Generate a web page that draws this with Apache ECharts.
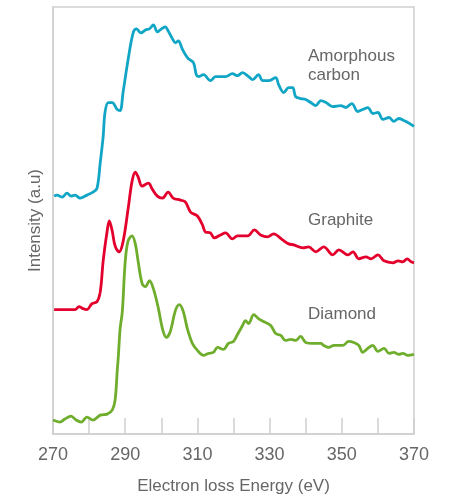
<!DOCTYPE html>
<html>
<head>
<meta charset="utf-8">
<script src="https://cdn.jsdelivr.net/npm/echarts@6/dist/echarts.min.js"></script>
<style>
  html, body { margin: 0; padding: 0; background: #fff; }
  #chart { width: 466px; height: 500px; }
</style>
</head>
<body>
<div id="chart"></div>
<script>
// EELS carbon K-edge spectra, offset vertically (arbitrary units)
const amorphousE = [270.3,271.1,272.5,273.9,275.0,276.1,277.5,279.4,281.1,282.2,283.1,283.9,284.4,285.3,286.4,287.8,288.6,289.4,290.8,292.2,293.1,294.4,295.6,296.7,297.8,298.9,299.7,301.1,301.9,303.1,303.9,304.7,305.8,306.7,307.5,308.9,309.7,310.3,311.7,313.6,315.0,316.4,317.8,319.7,321.1,322.5,324.2,325.3,326.9,328.1,329.7,331.7,332.5,333.9,335.3,336.4,337.2,338.6,340.0,341.4,342.8,344.2,345.6,347.5,349.7,351.1,352.8,354.4,355.8,357.2,358.6,360.0,361.4,363.1,364.4,365.8,367.2,368.3,370.0]
const amorphousI = [239,240,238,242,239,240,237,240,243,247,273,299,323,333,333,326,325,343,376,403,407,403,406,407,411,404,406,409,405,397,393,395,387,381,377,373,361,359,361,355,359,359,359,362,360,363,359,356,361,355,355,358,351,343,348,348,339,337,336,333,330,335,333,329,330,328,332,324,326,328,322,323,316,318,314,317,315,313,309]

const graphiteE = [270.3,276.1,277.2,278.3,279.4,280.8,282.2,283.1,283.9,285.0,285.6,286.4,287.2,288.3,289.4,290.8,291.9,292.8,293.6,294.7,296.4,297.5,298.9,300.3,301.9,303.3,305.3,306.7,308.1,310.0,311.4,312.2,313.6,314.7,316.4,317.8,319.7,321.1,323.9,325.8,327.5,329.4,331.1,333.6,335.3,336.7,339.2,340.8,342.8,345.0,347.5,349.2,351.7,353.1,354.7,356.7,358.1,360.0,361.7,364.2,365.6,366.9,368.1,369.2,370.0]
const graphiteI = [125,125,128,126,125,131,133,143,174,204,214,204,189,183,193,226,254,263,258,249,252,246,239,237,243,237,235,233,223,219,210,203,202,197,200,202,196,199,199,205,200,198,201,195,191,190,187,188,183,188,180,185,180,183,176,178,176,180,174,172,174,173,176,173,172]

const diamondE = [270.0,271.9,273.3,275.0,276.4,277.8,279.4,281.1,283.1,285.0,286.4,287.2,287.8,288.1,288.6,289.2,290.0,290.8,291.9,292.8,293.6,294.7,295.6,296.7,297.8,299.2,300.3,301.4,302.5,303.9,305.0,306.1,307.2,308.6,310.0,311.7,313.1,314.4,315.6,317.2,318.6,320.0,321.1,322.5,323.3,324.2,325.6,326.9,328.3,330.3,331.7,333.1,334.4,335.8,337.2,338.6,340.0,341.9,344.2,345.0,346.4,347.8,350.3,351.9,353.3,354.7,355.8,357.2,358.6,360.0,361.7,363.1,364.4,365.8,366.9,368.3,370.0]
const diamondI = [14,12,15,18,14,12,17,14,19,20,24,34,64,78,106,123,173,194,199,191,173,151,148,154,146,126,106,97,103,124,130,123,106,91,84,79,81,82,87,85,91,93,100,109,114,111,120,116,113,109,101,99,94,95,94,98,92,91,91,89,87,89,89,93,92,89,82,86,89,83,86,81,82,80,81,79,80]

const seriesNames = ['Amorphous carbon', 'Graphite', 'Diamond']
const seriesColors = ['#11a5c6', '#e3002c', '#6fad2c']
const xTickLabels = ['270', '290', '310', '330', '350', '370']

function pairs(xs, ys) {
    let out = []
    for (let i = 0; i < xs.length; i++) out.push([xs[i], ys[i]])
    return out
}

let myChart = echarts.init(document.getElementById('chart'))
let lineData = [pairs(amorphousE, amorphousI), pairs(graphiteE, graphiteI), pairs(diamondE, diamondI)]
let seriesData = []
for (let i = 0; i < seriesNames.length; i++) {
    seriesData.push({
        name: seriesNames[i], type: 'line', data: lineData[i],
        smooth: 0.35, showSymbol: false, silent: true,
        lineStyle: { color: seriesColors[i], width: 2.8 }
    })
}

const labelStyle = { fill: '#666', fontSize: 17, fontFamily: 'Liberation Sans', lineHeight: 19 }
let option = {
    animation: false,
    grid: {
        left: 53, right: 52, top: 7, bottom: 64,
        show: true, borderColor: '#d0d0d0', borderWidth: 1.5
    },
    xAxis: {
        type: 'value', min: 270, max: 370, interval: 10,
        name: 'Electron loss Energy (eV)', nameLocation: 'middle', nameGap: 44,
        nameTextStyle: { color: '#666', fontSize: 17, fontFamily: 'Liberation Sans' },
        axisLine: { lineStyle: { color: '#d0d0d0', width: 1.5 } },
        axisTick: { inside: true, length: 16, lineStyle: { color: '#d0d0d0', width: 1.5 } },
        splitLine: { show: false },
        axisLabel: {
            margin: 12, color: '#666', fontSize: 18, fontFamily: 'Liberation Sans',
            formatter: function (v) { return xTickLabels.indexOf(String(v)) >= 0 ? String(v) : '' }
        }
    },
    yAxis: {
        type: 'value', min: 0, max: 429,
        name: 'Intensity (a.u)', nameLocation: 'middle', nameGap: 9,
        nameTextStyle: { color: '#666', fontSize: 17, fontFamily: 'Liberation Sans' },
        axisLine: { show: true, lineStyle: { color: '#d0d0d0', width: 1.5 } },
        axisTick: { show: false },
        axisLabel: { show: false },
        splitLine: { show: false }
    },
    graphic: [
        { type: 'text', left: 308, top: 47, style: Object.assign({ text: 'Amorphous\ncarbon' }, labelStyle) },
        { type: 'text', left: 308, top: 211, style: Object.assign({ text: 'Graphite' }, labelStyle) },
        { type: 'text', left: 308, top: 305, style: Object.assign({ text: 'Diamond' }, labelStyle) }
    ],
    series: seriesData
}
myChart.setOption(option)
window.addEventListener('resize', function () { myChart.resize() })
</script>
</body>
</html>
